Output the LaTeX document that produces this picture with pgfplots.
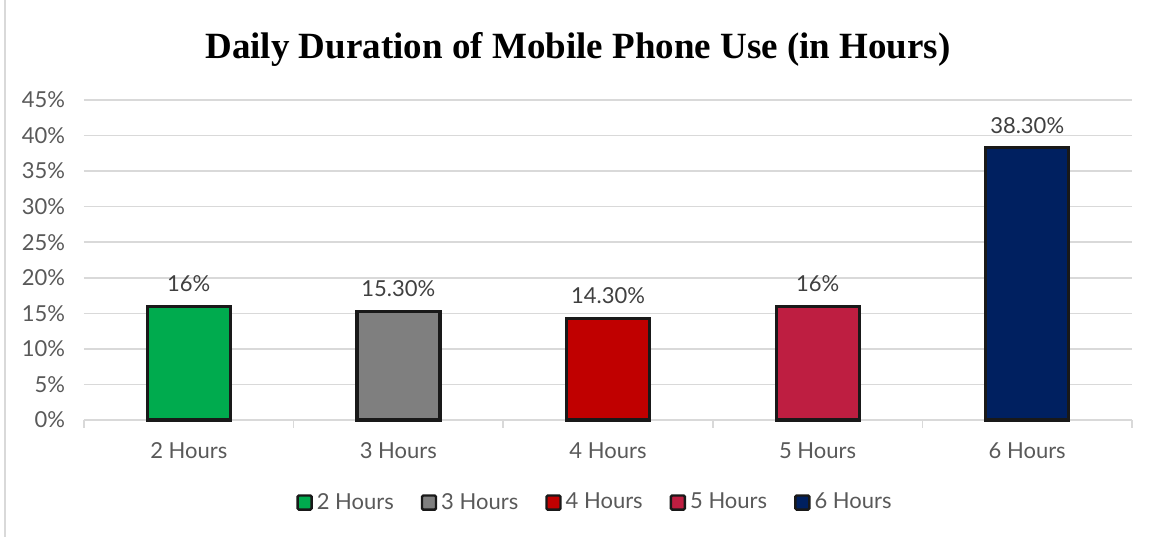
\documentclass[border=0pt]{standalone}
\usepackage{pgfplots}
\pgfplotsset{compat=1.18}
\usepackage{fontspec}
\setmainfont{Lato}
\newfontfamily\titlefont{Liberation Serif}
\definecolor{cgreen}{HTML}{00AB4E}
\definecolor{cgray}{HTML}{7F7F7F}
\definecolor{cred}{HTML}{C00000}
\definecolor{ccrim}{HTML}{BE1E41}
\definecolor{cnavy}{HTML}{002060}
\definecolor{txt}{HTML}{595959}
\definecolor{txtd}{HTML}{404040}
\definecolor{gridc}{HTML}{D9D9D9}
\begin{document}
\begin{tikzpicture}
\useasboundingbox (0pt,0pt) rectangle (578pt,269.5pt);
\draw[gridc, line width=0.8pt] (2.5pt,1pt) -- (2.5pt,269.5pt);
\node[font=\titlefont\bfseries\fontsize{18.5}{22}\selectfont, text=black] at (289pt,245pt) {Daily Duration of Mobile Phone Use (in Hours)};
\begin{axis}[
  at={(42pt,59.5pt)}, anchor=south west,
  scale only axis, width=524pt, height=160pt,
  xmin=-0.5, xmax=4.5, ymin=0, ymax=45,
  ytick={0,5,...,45},
  yticklabel={\pgfmathprintnumber{\tick}\%},
  /pgf/number format/assume math mode=true,
  xtick={0,1,2,3,4},
  xticklabels={2 Hours,3 Hours,4 Hours,5 Hours,6 Hours},
  extra x ticks={-0.5,0.5,1.5,2.5,3.5,4.5},
  extra x tick labels={},
  extra x tick style={major tick length=4pt, tick style={gridc, line width=0.8pt}, tick align=outside, grid=none},
  major tick length=0pt,
  axis x line*=bottom, axis y line*=left,
  y axis line style={draw=none},
  x axis line style={gridc, line width=0.8pt, -},
  ymajorgrids, grid style={gridc, line width=0.8pt},
  tick label style={font=\fontsize{11}{13}\selectfont, text=txt},
  xticklabel style={yshift=-8pt},
  yticklabel style={xshift=-6pt},
  ybar, bar width=41.5pt, bar shift=0pt,
  every axis plot/.append style={draw=black!90, line width=1.6pt},
  nodes near coords style={font=\fontsize{11}{13}\selectfont, text=txtd, yshift=3pt},
  legend style={at={(0.5,-0.258)}, anchor=center, xshift=-6pt, draw=none, fill=none,
    font=\fontsize{11}{13}\selectfont, text=txt, legend columns=5,
    /tikz/every even column/.append style={column sep=11.5pt}},
  legend image code/.code={\draw[#1, line width=1.2pt, rounded corners=0.6pt] (0pt,-3.5pt) rectangle (7pt,3.5pt);},
  clip=false,
]
\addplot[fill=cgreen, nodes near coords={16\%}] coordinates {(0,16)};
\addplot[fill=cgray, nodes near coords={15.30\%}] coordinates {(1,15.3)};
\addplot[fill=cred, nodes near coords={14.30\%}] coordinates {(2,14.3)};
\addplot[fill=ccrim, nodes near coords={16\%}] coordinates {(3,16)};
\addplot[fill=cnavy, nodes near coords={38.30\%}] coordinates {(4,38.3)};
\legend{2 Hours,3 Hours,4 Hours,5 Hours,6 Hours}
\end{axis}
\end{tikzpicture}
\end{document}
